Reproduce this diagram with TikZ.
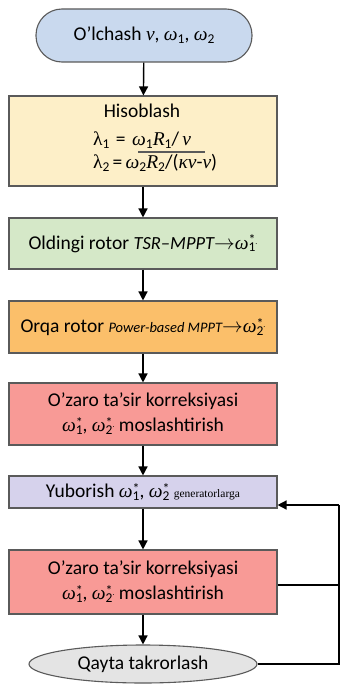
\documentclass[tikz,border=0pt]{standalone}
\usepackage{fontspec}
\setmainfont{Carlito}
\newfontfamily\mf{Liberation Serif}
\usetikzlibrary{arrows.meta,shapes.geometric}
\newcommand\gk[1]{{\mf\itshape #1}}
\newcommand\sub[1]{\raisebox{-0.3ex}{\fontsize{13.5}{14}\selectfont #1}}
\newcommand\wst[1]{\gk{ω}\makebox[0pt][l]{\raisebox{4.5pt}{\fontsize{14}{14}\selectfont *}}\sub{#1}}
\newcommand\wdt{\raisebox{0.5ex}{\fontsize{8}{8}\selectfont.}}
\definecolor{cblue}{HTML}{C9D9EE}
\definecolor{cyel}{HTML}{FDEFC8}
\definecolor{cgreen}{HTML}{D5E8C8}
\definecolor{corange}{HTML}{FBBF6A}
\definecolor{cred}{HTML}{F89A96}
\definecolor{cpurp}{HTML}{D6D2EC}
\definecolor{cgray}{HTML}{E4E4E4}
\definecolor{cline}{HTML}{5A5A5A}
\tikzset{
  box/.style={draw=cline, line width=1.1pt, minimum width=268pt, inner sep=0pt, align=center, font=\fontsize{19.5}{25}\selectfont},
  flow/.style={-{Triangle[length=9pt,width=9pt]}, line width=1.4pt, black},
  loopline/.style={line width=1.3pt, black},
  txt/.style={inner sep=0pt, font=\fontsize{19.5}{25}\selectfont}
}
\begin{document}
\begin{tikzpicture}[x=1pt,y=-1pt]
\useasboundingbox (0,0) rectangle (340,685);
\fill[white] (0,0) rectangle (340,685);
\node[box, fill=cblue, minimum width=216pt, minimum height=53pt, rounded corners=26pt] (start) at (144,35.5) {O'lchash \gk{ν}, \gk{ω}\sub{1}, \gk{ω}\sub{2}};
\node[box, fill=cyel, minimum height=90pt] (calc) at (143,141) {};
\node[txt] (calct) at (142,111) {Hisoblash};
\node[txt, anchor=west] (l1) at (93,140) {{\mf λ}\sub{1}\,\,=\,\,\gk{ω}\sub{1}\gk{R}\sub{1}/\,\gk{ν}};
\node[txt, anchor=west] (l2) at (93,163) {{\mf λ}\sub{2}\,=\,\gk{ω}\sub{2}\gk{R}\sub{2}/({\mf\itshape κν}-\gk{ν})};
\draw[line width=1.1pt, cline] (138,152) -- (205,152);
\node[box, fill=cgreen, minimum height=51pt] (front) at (143,243.5) {Oldingi rotor {\fontsize{18.5}{22}\selectfont\itshape TSR–MPPT}$\rightarrow$\wst{1}\wdt};
\node[box, fill=corange, minimum height=52pt] (rear) at (143,327) {Orqa rotor {\fontsize{14.5}{18}\selectfont\itshape Power-based MPPT}$\rightarrow$\wst{2}\wdt};
\node[box, fill=cred, minimum height=62pt] (corr1) at (143,414) {O'zaro ta'sir korreksiyasi\\\wst{1}, \wst{2}\wdt\ moslashtirish};
\node[box, fill=cpurp, minimum height=32pt] (send) at (143,492) {Yuborish \wst{1}, \wst{2}\ {\mf\fontsize{11.5}{14}\selectfont generatorlarga}};
\node[box, fill=cred, minimum height=64pt] (corr2) at (143,582) {O'zaro ta'sir korreksiyasi\\\wst{1}, \wst{2}\wdt\ moslashtirish};
\node[box, ellipse, fill=cgray, minimum width=228pt, minimum height=38pt] (end) at (143,664) {Qayta takrorlash};
\coordinate (rb) at (339,664);
\coordinate (rt) at (339,505);
\coordinate (rm) at (339,585);
\draw[flow] (start) -- (calc);
\draw[flow] (calc) -- (front);
\draw[flow] (front) -- (rear);
\draw[flow] (rear) -- (corr1);
\draw[flow] (corr1) -- (send);
\draw[flow] (send) -- (corr2);
\draw[flow] (corr2) -- (end);
\draw[loopline] (end.east) -- (rb) -- (rt);
\draw[flow] (rt) -- (send.east |- rt);
\draw[loopline] (corr2.east |- rm) -- (rm);
\end{tikzpicture}
\end{document}
